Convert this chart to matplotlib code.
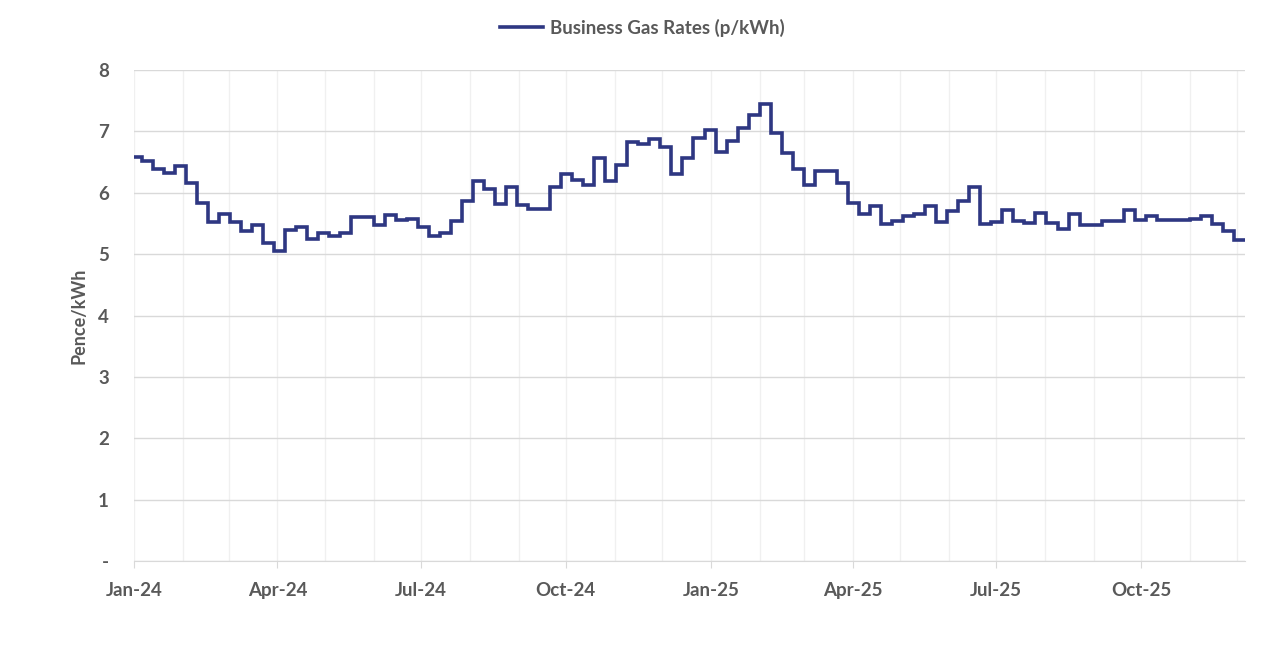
import matplotlib
matplotlib.use('Agg')
import matplotlib.pyplot as plt
import matplotlib.dates as mdates
import pandas as pd

# weekly business gas rates (p/kWh), each week starts on the date in week_start
first_week = '2023-12-30'
rates = [
    6.58, 6.52, 6.38, 6.33, 6.44, 6.16, 5.83, 5.53, 5.66, 5.52,
    5.38, 5.48, 5.18, 5.05, 5.40, 5.44, 5.24, 5.34, 5.29, 5.35,
    5.60, 5.60, 5.47, 5.64, 5.56, 5.58, 5.44, 5.30, 5.35, 5.54,
    5.87, 6.19, 6.06, 5.81, 6.09, 5.80, 5.73, 5.73, 6.10, 6.30,
    6.21, 6.13, 6.57, 6.19, 6.46, 6.82, 6.79, 6.88, 6.75, 6.31,
    6.56, 6.90, 7.03, 6.67, 6.85, 7.06, 7.26, 7.44, 6.98, 6.64,
    6.38, 6.12, 6.35, 6.35, 6.16, 5.84, 5.65, 5.79, 5.49, 5.54,
    5.62, 5.66, 5.78, 5.53, 5.71, 5.87, 6.09, 5.49, 5.53, 5.72,
    5.54, 5.51, 5.67, 5.51, 5.41, 5.66, 5.47, 5.47, 5.54, 5.54,
    5.72, 5.56, 5.62, 5.55, 5.55, 5.56, 5.57, 5.62, 5.49, 5.38,
    5.23,
]
y_ticks = [0, 1, 2, 3, 4, 5, 6, 7, 8]
y_labels = ['-', '1', '2', '3', '4', '5', '6', '7', '8']
x_start = '2024-01-01'
x_end = '2025-12-06'

week_edges = pd.date_range(first_week, periods=len(rates) + 1, freq='7D')

plt.rcParams['font.family'] = ['Lato', 'DejaVu Sans']
txt = '#595959'
fs = 13.5

fig = plt.figure(figsize=(12.8, 6.49), dpi=100)
ax = fig.add_axes([0.1047, 0.1356, 0.868, 0.7565])

ax.stairs(rates, mdates.date2num(week_edges), baseline=None,
          color='#2e3782', linewidth=2.6, label='Business Gas Rates (p/kWh)', zorder=3)

ax.set_xlim(mdates.datestr2num(x_start), mdates.datestr2num(x_end))
ax.set_ylim(0, 8)
ax.set_yticks(y_ticks)
ax.set_yticklabels(y_labels)

ax.xaxis.set_major_locator(mdates.MonthLocator(bymonth=[1, 4, 7, 10]))
ax.xaxis.set_major_formatter(mdates.DateFormatter('%b-%y'))
ax.xaxis.set_minor_locator(mdates.MonthLocator())

ax.grid(axis='y', color='#d9d9d9', linewidth=1)
ax.grid(axis='x', which='both', color='#f0f0f0', linewidth=1)
ax.set_axisbelow(True)

for s in ['top', 'right', 'left']:
    ax.spines[s].set_visible(False)
ax.spines['bottom'].set_color('#d9d9d9')

ax.tick_params(axis='y', length=0, pad=18, labelsize=fs, labelcolor=txt)
ax.tick_params(axis='x', which='major', length=5, color='#d9d9d9', pad=10,
               labelsize=fs, labelcolor=txt)
ax.tick_params(axis='x', which='minor', length=0)
for lab in ax.get_xticklabels() + ax.get_yticklabels():
    lab.set_fontweight('bold')

ax.set_ylabel('Pence/kWh', color=txt, fontsize=13, fontweight='bold', labelpad=8)

leg = fig.legend(loc='upper center', bbox_to_anchor=(0.502, 0.997), frameon=False,
                 handlelength=2.3, handletextpad=0.4,
                 prop={'size': fs, 'weight': 'bold'})
for t in leg.get_texts():
    t.set_color(txt)

fig.savefig('out.png', dpi=100)
